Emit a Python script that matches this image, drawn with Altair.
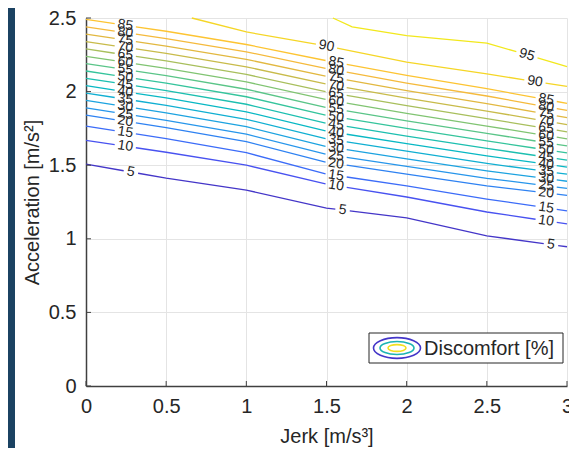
import math
import altair as alt
import numpy as np
import pandas as pd

# ---------------- data ----------------
jerk = [0, 0.5, 1, 1.5, 2, 2.5, 3]
levels = [5, 10, 15, 20, 25, 30, 35, 40, 45, 50, 55, 60, 65, 70, 75, 80, 85]
acc_05 = [1.507, 1.412, 1.331, 1.209, 1.142, 1.020, 0.946]
acc_10 = [1.669, 1.588, 1.500, 1.372, 1.284, 1.182, 1.101]
acc_15 = [1.765, 1.680, 1.585, 1.440, 1.360, 1.270, 1.190]
acc_20 = [1.840, 1.755, 1.660, 1.520, 1.440, 1.360, 1.295]
acc_25 = [1.890, 1.805, 1.711, 1.573, 1.492, 1.411, 1.343]
acc_30 = [1.940, 1.856, 1.762, 1.626, 1.543, 1.462, 1.391]
acc_35 = [1.990, 1.906, 1.812, 1.679, 1.595, 1.512, 1.439]
acc_40 = [2.040, 1.957, 1.863, 1.732, 1.646, 1.563, 1.487]
acc_45 = [2.090, 2.007, 1.914, 1.785, 1.698, 1.614, 1.535]
acc_50 = [2.140, 2.057, 1.965, 1.838, 1.750, 1.665, 1.583]
acc_55 = [2.190, 2.108, 2.016, 1.892, 1.801, 1.716, 1.631]
acc_60 = [2.240, 2.158, 2.066, 1.945, 1.852, 1.766, 1.679]
acc_65 = [2.290, 2.208, 2.117, 1.998, 1.904, 1.817, 1.727]
acc_70 = [2.340, 2.259, 2.168, 2.051, 1.955, 1.868, 1.775]
acc_75 = [2.390, 2.309, 2.219, 2.104, 2.007, 1.919, 1.823]
acc_80 = [2.440, 2.360, 2.270, 2.157, 2.058, 1.970, 1.872]
acc_85 = [2.490, 2.410, 2.320, 2.210, 2.110, 2.020, 1.920]
jerk_90 = [0.66, 1.0, 1.5, 2.0, 2.5, 3.0]
acc_90 = [2.500, 2.405, 2.310, 2.200, 2.120, 2.035]
jerk_95 = [1.54, 1.66, 2.0, 2.5, 3.0]
acc_95 = [2.500, 2.440, 2.380, 2.330, 2.170]

# contour-label positions (jerk)
label_default = [0.245, 1.56, 2.87]
label_special = {5: [0.28, 1.60, 2.90], 90: [1.50, 2.80], 95: [2.75]}

x_ticks = [0, 0.5, 1, 1.5, 2, 2.5, 3]
y_ticks = [0, 0.5, 1, 1.5, 2, 2.5]
legend_text = ["Discomfort [%]"]

# parula-like colours per level
level_colors = {
    5: "#4436c8", 10: "#4852f0", 15: "#3c6cf8", 20: "#2e82f2", 25: "#2796eb",
    30: "#1ca3e0", 35: "#10afd2", 40: "#08b8c4", 45: "#1cbfb0", 50: "#35c49c",
    55: "#5ac588", 60: "#80c472", 65: "#a8bf5c", 70: "#c8bb4a", 75: "#e2b840",
    80: "#f5ba3c", 85: "#fdc432", 90: "#f5d626", 95: "#f2e81c",
}

acc_lists = [acc_05, acc_10, acc_15, acc_20, acc_25, acc_30, acc_35, acc_40, acc_45,
             acc_50, acc_55, acc_60, acc_65, acc_70, acc_75, acc_80, acc_85]
series = [(lev, jerk, a) for lev, a in zip(levels, acc_lists)]
series += [(90, jerk_90, acc_90), (95, jerk_95, acc_95)]

W, H = 481, 368
PX_J = W / 3.0
PX_A = H / 2.5

line_rows, lab_rows = [], []
for lev, js, accs in series:
    labs = label_special.get(lev, label_default)
    hw = 0.045 if lev < 10 else 0.066
    gaps = sorted((l - hw, l + hw) for l in labs)
    bounds, cur = [], js[0]
    for a, b in gaps:
        if a > cur:
            bounds.append((cur, a))
        cur = max(cur, b)
    if cur < js[-1]:
        bounds.append((cur, js[-1]))
    for k, (s, e) in enumerate(bounds):
        xs = [s] + [j for j in js if s < j < e] + [e]
        for i, xv in enumerate(xs):
            line_rows.append(dict(j=xv, a=float(np.interp(xv, js, accs)), seg=f"{lev}_{k}",
                                  o=i, color=level_colors[lev]))
    for l in labs:
        av = float(np.interp(l, js, accs))
        slope = (np.interp(l + 0.03, js, accs) - np.interp(l - 0.03, js, accs)) / 0.06
        ang = math.degrees(math.atan(-slope * PX_A / PX_J)) % 360
        lab_rows.append(dict(j=l, a=av, txt=str(lev), angle=ang))

df_lines = pd.DataFrame(line_rows)
df_labs = pd.DataFrame(lab_rows)

FONT = "Liberation Sans"
TXT = "#262626"
AX = "#404040"

x_scale = alt.Scale(domain=[0, 3], nice=False, zero=False)
y_scale = alt.Scale(domain=[0, 2.5], nice=False, zero=False)

axis_common = dict(grid=True, gridColor="#e4e4e4", gridWidth=1, domainColor=AX, domainWidth=1.5,
                   ticks=False, tickSize=0, labelFont=FONT, labelFontSize=20, labelColor=TXT,
                   titleFont=FONT, titleFontSize=20, titleFontWeight="normal", titleColor=TXT,
                   labelFlush=False, labelOverlap=False, format="~g")

lines = alt.Chart(df_lines).mark_line(strokeWidth=1.3).encode(
    x=alt.X("j:Q", scale=x_scale,
            axis=alt.Axis(values=x_ticks, title="Jerk [m/s³]", labelPadding=10, titlePadding=10,
                          **axis_common)),
    y=alt.Y("a:Q", scale=y_scale,
            axis=alt.Axis(values=y_ticks, title="Acceleration [m/s²]", labelPadding=10,
                          titlePadding=6, **axis_common)),
    color=alt.Color("color:N", scale=None),
    detail="seg:N",
    order="o:Q",
)

labels = alt.Chart(df_labs).mark_text(font=FONT, fontSize=14, color=TXT, align="center",
                                      baseline="middle").encode(
    x="j:Q", y="a:Q", text="txt:N", angle=alt.Angle("angle:Q", scale=None))

xt = alt.Chart(pd.DataFrame({"j": x_ticks})).mark_rule(color=AX, strokeWidth=1).encode(
    x="j:Q", y=alt.value(H), y2=alt.value(H - 5))
yt = alt.Chart(pd.DataFrame({"a": y_ticks})).mark_rule(color=AX, strokeWidth=1).encode(
    y="a:Q", x=alt.value(0), x2=alt.value(5))

leg_df = pd.DataFrame({"t": legend_text})
leg_box = alt.Chart(leg_df).mark_rect(fill="white", stroke="#262626", strokeWidth=1).encode(
    x=alt.value(283), x2=alt.value(477), y=alt.value(315), y2=alt.value(345))
ell_path = "M -1 0 A 1 0.44 0 1 1 1 0 A 1 0.44 0 1 1 -1 0 Z"
ell_path2 = "M -1 0 A 1 0.38 0 1 1 1 0 A 1 0.38 0 1 1 -1 0 Z"
e1 = alt.Chart(leg_df).mark_point(shape=ell_path, filled=False, size=47 * 47, stroke="#4436c8",
                                  strokeWidth=1.6, opacity=1).encode(x=alt.value(311), y=alt.value(330))
e2 = alt.Chart(leg_df).mark_point(shape=ell_path2, filled=False, size=34 * 34, stroke="#1cb4b4",
                                  strokeWidth=1.6, opacity=1).encode(x=alt.value(311), y=alt.value(330))
e3 = alt.Chart(leg_df).mark_point(shape=ell_path2, filled=False, size=18 * 18, stroke="#f2e020",
                                  strokeWidth=1.6, opacity=1).encode(x=alt.value(311), y=alt.value(330))
leg_txt = alt.Chart(leg_df).mark_text(font=FONT, fontSize=20, color=TXT, align="left",
                                      baseline="middle").encode(
    x=alt.value(338), y=alt.value(331), text="t:N")

strip = alt.Chart(leg_df).mark_rect(color="#1b4262").encode(
    x=alt.value(-78), x2=alt.value(-71), y=alt.value(-10), y2=alt.value(H + 70))

chart = alt.layer(strip, lines, labels, xt, yt, leg_box, e1, e2, e3, leg_txt).properties(
    width=W, height=H,
    autosize=alt.AutoSizeParams(type="none"),
    padding={"left": 78, "top": 10, "right": 2, "bottom": 62},
).configure(background="white").configure_view(stroke=None)

chart.save("out.html", embed_options={"renderer": "svg", "actions": False})
